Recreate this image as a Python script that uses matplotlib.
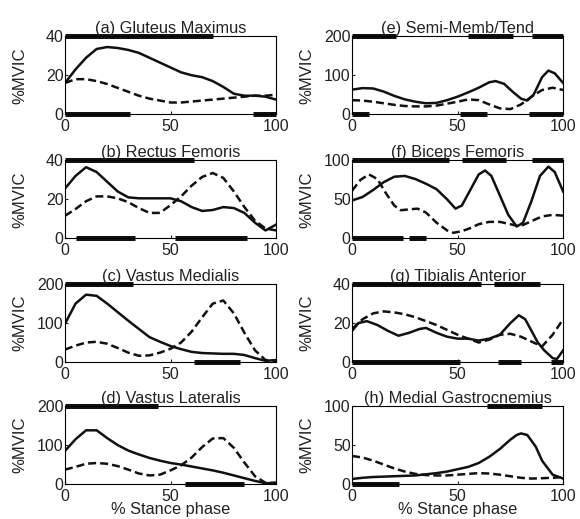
import numpy as np
import matplotlib
matplotlib.use('Agg')
import matplotlib.pyplot as plt

plt.rcParams['font.family'] = ['Liberation Sans', 'DejaVu Sans']
plt.rcParams['font.size'] = 11

grid5 = [0,5,10,15,20,25,30,35,40,45,50,55,60,65,70,75,80,85,90,95,100]

# (a) Gluteus Maximus
a_sx = grid5
a_sy = [16,23,29,33.5,34.5,34,33,31.5,29,26.5,24,21.5,20,19,17,14,10.5,9.5,9.5,9,7.5]
a_dx = grid5
a_dy = [16,18,18,17,15.5,13.5,11.5,9.5,8,7,6,6,6.5,7,7.5,8,8.5,9,9.5,9.5,10]
a_top = [(0,70)]
a_bot = [(0,31),(89,100)]

# (b) Rectus Femoris
b_sx = grid5
b_sy = [25.5,32,36.5,34,29,24,21,20.5,20.5,20.5,20.5,19,16,14,14.5,16,15.5,13,8,4,7]
b_dx = grid5
b_dy = [11.5,15,19,21.5,21.5,20.5,18.5,15.5,13,13,17,21.5,27,31.5,33.5,31,24,16,9,5,4]
b_top = [(0,61)]
b_bot = [(5,33),(52,86)]

# (c) Vastus Medialis
c_sx = grid5
c_sy = [98,150,173,170,150,128,106,85,64,52,41,33,26,23,22,21,21,18,10,3,5]
c_dx = grid5
c_dy = [32,42,50,52,47,36,24,16,17,24,34,50,78,115,150,158,125,75,30,5,3]
c_top = [(0,32)]
c_bot = [(61,83)]

# (d) Vastus Lateralis
d_sx = grid5
d_sy = [85,115,138,138,118,100,86,76,67,60,54,50,45,40,35,29,22,15,8,2,3]
d_dx = grid5
d_dy = [37,44,52,54,52,46,37,27,22,24,35,48,68,95,117,118,93,55,20,3,3]
d_top = [(0,44)]
d_bot = [(57,85)]

# (e) Semi-Memb/Tend
e_sx = [0,5,10,15,20,25,30,35,40,45,50,55,60,65,68,72,76,80,83,86,90,93,96,100]
e_sy = [63,67,66,58,47,38,32,28,29,36,45,56,68,82,85,78,58,40,35,50,95,112,105,80]
e_dx = grid5
e_dy = [36,35,32,28,24,21,20,20,22,27,32,38,36,25,15,13,25,45,62,68,62]
e_top = [(0,21),(55,76),(85,100)]
e_bot = [(0,8),(51,64),(84,100)]

# (f) Biceps Femoris
f_sx = [0,5,10,15,20,25,30,35,40,45,49,52,56,60,63,66,70,74,78,81,85,89,93,96,100]
f_sy = [48.5,53,62,72,79,80,76,70,63,50,38,42,62,82,87,80,55,30,15,20,48,80,92,85,60]
f_dx = [0,4,8,12,16,20,23,27,31,35,40,45,48,52,56,60,65,70,75,78,81,85,90,95,100]
f_dy = [61,75,82,76,58,42,36,37,38,33,20,10,7,9,13,18,21,21,18,16,17,22,28,30,29]
f_top = [(0,46),(52,73),(85,100)]
f_bot = [(0,24),(27,35)]

# (g) Tibialis Anterior
g_sx = [0,3,7,12,17,22,27,32,35,40,45,50,55,60,65,70,75,79,82,85,88,91,95,97,100]
g_sy = [16,20,21,19,16,13.5,15,17,17.5,15,13,12,12,11,12,14,20,24,22,16,10,6,2,1.5,6]
g_dx = grid5
g_dy = [17,22,25,26,25.5,24.5,23,21,19,16.5,14,12,10,11.5,14,14.5,13,10.5,8,14,22]
g_top = [(0,61),(67,89)]
g_bot = [(0,51),(69,80),(94,100)]

# (h) Medial Gastrocnemius
h_sx = [0,5,10,20,30,40,45,50,55,60,65,70,75,78,80,83,87,90,95,100]
h_sy = [6.5,8,9,10,11,14,16,19,22,27,35,45,57,63,65,63,48,30,12,7]
h_dx = grid5
h_dy = [36,34,30,25,20,16,13,11.5,11,11,12,13,14,13.5,12,10,8,7,7.5,8,9]
h_top = [(64,90)]
h_bot = [(0,22)]

panels = [
    ('(a) Gluteus Maximus', 40, a_sx, a_sy, a_dx, a_dy, a_top, a_bot),
    ('(b) Rectus Femoris', 40, b_sx, b_sy, b_dx, b_dy, b_top, b_bot),
    ('(c) Vastus Medialis', 200, c_sx, c_sy, c_dx, c_dy, c_top, c_bot),
    ('(d) Vastus Lateralis', 200, d_sx, d_sy, d_dx, d_dy, d_top, d_bot),
    ('(e) Semi-Memb/Tend', 200, e_sx, e_sy, e_dx, e_dy, e_top, e_bot),
    ('(f) Biceps Femoris', 100, f_sx, f_sy, f_dx, f_dy, f_top, f_bot),
    ('(g) Tibialis Anterior', 40, g_sx, g_sy, g_dx, g_dy, g_top, g_bot),
    ('(h) Medial Gastrocnemius', 100, h_sx, h_sy, h_dx, h_dy, h_top, h_bot),
]

fig = plt.figure(figsize=(5.8, 5.19), dpi=100)
lefts = [0.112, 0.607]
bottoms = [0.780, 0.541, 0.3025, 0.0674]
col = '#111111'

for i, (title, ymax, sx, sy, dx, dy, top, bot) in enumerate(panels):
    c, r = divmod(i, 4)
    ax = fig.add_axes([lefts[c], bottoms[r], 0.364, 0.150])
    ax.plot(sx, sy, color=col, lw=1.8)
    ax.plot(dx, dy, color=col, lw=1.8, ls='--', dashes=(3.2, 1.6))
    for s, e in top:
        ax.plot([s, e], [ymax, ymax], color=col, lw=3.6, solid_capstyle='butt', clip_on=False)
    for s, e in bot:
        ax.plot([s, e], [0, 0], color=col, lw=3.6, solid_capstyle='butt', clip_on=False)
    ax.set_xlim(0, 100)
    ax.set_ylim(0, ymax)
    ax.set_xticks([0, 50, 100])
    ax.set_yticks([0, ymax / 2, ymax])
    ax.set_yticklabels(['0', str(int(ymax / 2)), str(ymax)])
    ax.tick_params(direction='in', length=2, labelsize=11.5, colors='#222222')
    ax.tick_params(axis='y', pad=1)
    ax.tick_params(axis='x', pad=3.5)
    ax.set_title(title, fontsize=11.8, pad=2, color='#222222')
    ax.set_ylabel('%MVIC', fontsize=12, color='#222222')
    ax.yaxis.set_label_coords(-0.178, 0.5)
    if r == 3:
        ax.set_xlabel('% Stance phase', fontsize=11.8, labelpad=-1.5, color='#222222')
    for sp in ax.spines.values():
        sp.set_linewidth(0.8)

fig.savefig('out.png', dpi=100)
